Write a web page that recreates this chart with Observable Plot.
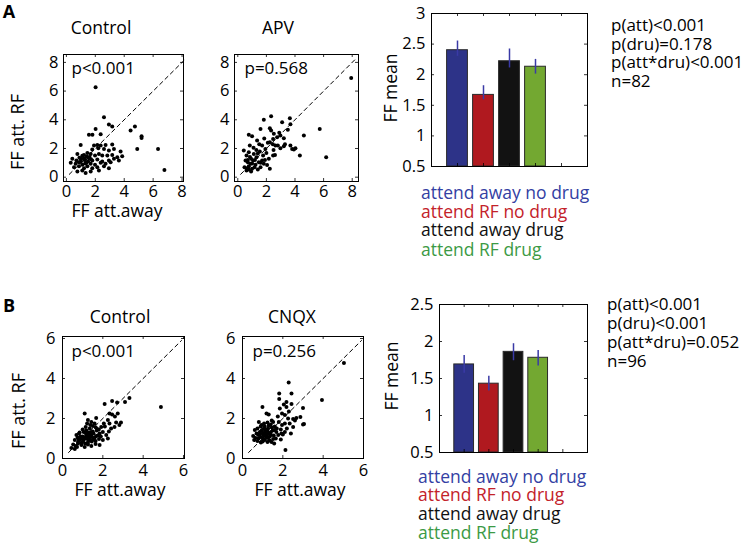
<!DOCTYPE html>
<html>
<head>
<meta charset="utf-8">
<script src="https://cdn.jsdelivr.net/npm/d3@7"></script>
<script src="https://cdn.jsdelivr.net/npm/@observablehq/plot@0.6"></script>
<style>
  html, body { margin: 0; padding: 0; background: #fff; }
  #fig { position: relative; width: 746px; height: 544px; background: #fff; overflow: hidden;
         font-family: 'Open Sans', 'Noto Sans', sans-serif; color: #000; }
  .lbl { position: absolute; white-space: nowrap; line-height: 1; }
  #fig svg { position: absolute; overflow: visible; }
</style>
</head>
<body>
<div id="fig"></div>
<script>
// ---------------- DATA ----------------
const conditions = ["attend away no drug", "attend RF no drug", "attend away drug", "attend RF drug"];
const barPositions = [1, 2, 3, 4];
const barColors = ["#2d3388", "#b0191f", "#121212", "#73a831"];
const legendColors = ["#3340a3", "#c3222a", "#111111", "#3c9a45"];

const meanA = [2.40, 1.67, 2.22, 2.13];
const errUpA = [0.15, 0.15, 0.20, 0.12];
const errDnA = [0.10, 0.08, 0.11, 0.12];
const statsA = ["p(att)<0.001", "p(dru)=0.178", "p(att*dru)<0.001", "n=82"];

const meanB = [1.69, 1.43, 1.86, 1.78];
const errUpB = [0.12, 0.10, 0.11, 0.10];
const errDnB = [0.12, 0.10, 0.12, 0.11];
const statsB = ["p(att)<0.001", "p(dru)<0.001", "p(att*dru)=0.052", "n=96"];

const barTicksA = [0.5, 1, 1.5, 2, 2.5, 3];
const barTicksB = [0.5, 1, 1.5, 2, 2.5];
const barSlotTicks = [1, 2, 3, 4, 5];

const scatterTicksA = [0, 2, 4, 6, 8];
const scatterTicksB = [0, 2, 4, 6];
const diagA = [0.2, 8.2];
const diagB = [0.3, 5.9];

// FF attend away (x), FF attend RF (y)
const controlA = [
  [2.02,6.26],[2.6,4.18],[2.94,3.67],[3.17,3.53],[4.44,3.25],[4.74,3.53],[5.2,2.85],[5.2,2.74],
  [4.9,1.97],[6.34,1.97],[6.78,0.51],[2.02,3.36],[1.56,2.95],[1.8,2.95],[2.37,3.0],
  [0.99,2.25],[1.91,2.2],[2.14,2.25],[2.37,2.2],[2.71,2.25],[3.17,2.27],
  [1.79,1.93],[2.21,2.02],[2.6,1.97],[2.94,1.86],[3.29,1.97],[3.75,1.79],
  [0.76,1.62],[1.22,1.55],[1.45,1.69],[1.68,1.62],[1.98,1.51],[2.25,1.62],[2.48,1.51],[2.83,1.51],[3.17,1.55],[3.52,1.39],[3.86,1.46],
  [0.41,1.28],[0.69,1.16],[0.99,1.28],[1.29,1.23],[1.56,1.32],[1.79,1.16],[2.14,1.23],[2.48,1.09],[2.94,1.16],[3.29,1.28],[3.63,1.16],
  [0.3,1.0],[0.64,0.93],[0.87,1.04],[1.1,0.86],[1.38,1.0],[1.68,0.93],[1.98,0.86],[2.37,1.0],[2.71,0.93],[3.06,1.04],
  [0.53,0.7],[0.87,0.77],[1.22,0.63],[1.45,0.77],[1.79,0.63],[2.14,0.7],[2.6,0.77],[2.94,0.63],
  [0.76,0.39],[1.1,0.46],[1.33,0.3],[1.68,0.39],[2.25,0.46],
  [1.2,1.3],[1.4,1.45],[1.5,1.1],[1.3,0.95],[1.1,1.5],[1.6,1.4],[1.0,1.1],[1.25,1.2],[1.7,1.25],[0.9,1.35]
];
const apvA = [
  [7.93,6.91],[5.73,3.36],[6.18,1.39],[4.62,2.9],[4.34,1.51],
  [3.68,2.2],[3.8,1.97],[3.92,1.93],[4.03,2.02],[3.1,3.83],[3.64,4.11],[3.68,3.69],
  [1.82,4.01],[2.33,4.25],[2.24,3.41],[2.33,3.25],[1.59,3.36],
  [2.52,3.02],[2.75,2.78],[2.98,2.9],[3.22,2.71],[2.63,2.2],[2.98,2.02],[3.22,2.16],
  [2.24,2.44],[2.47,2.67],[0.77,2.95],[1.0,2.85],[0.84,2.2],[1.35,2.55],[1.7,2.2],[1.93,1.97],
  [2.47,1.51],[2.24,0.58],
  [0.42,1.86],[0.61,1.51],[0.77,1.74],[0.93,1.28],[1.12,1.62],[1.31,1.39],[1.54,1.79],[1.77,1.51],[2.0,1.69],[2.17,1.28],
  [0.54,1.16],[0.7,1.04],[0.89,0.93],[1.07,1.16],[1.24,0.86],[1.47,1.04],[1.7,1.16],[1.82,0.93],
  [0.47,0.7],[0.65,0.63],[0.77,0.77],[1.0,0.58],[1.17,0.7],[1.4,0.53],[1.59,0.7],
  [0.61,0.46],[0.77,0.53],[0.93,0.39],
  [1.3,1.9],[1.5,2.3],[1.1,2.05],[2.1,2.4],[1.9,1.2],[2.6,1.55],[0.85,1.4],[1.2,1.2],[1.0,0.95],[2.05,0.85],[2.8,2.2],
  [2.5,1.9],[3.3,2.3],[1.6,1.0],[0.7,1.2],[1.85,2.7],[2.9,3.1],[2.45,2.3],[1.4,1.65],[3.5,3.3]
];
const controlB = [
  [4.88,2.58],[3.32,3.03],[3.1,2.83],[2.46,2.87],[2.71,2.8],[2.09,2.72],
  [2.33,2.25],[2.46,2.2],[2.74,2.25],[1.1,2.25],[1.67,2.03],[1.26,1.92],[1.43,1.83],
  [2.25,1.92],[2.33,1.75],[2.66,1.8],[2.82,1.67],[2.58,1.58],[2.41,1.5],[2.9,1.8],
  [0.69,1.17],[0.82,1.25],[0.94,1.08],[1.05,1.33],[1.18,1.2],[1.31,1.3],[1.43,1.17],[1.54,1.25],[1.67,1.13],[1.84,1.25],[2.0,1.33],[2.17,1.17],
  [0.61,0.92],[0.77,0.83],[0.89,0.97],[1.02,0.87],[1.15,1.0],[1.26,0.8],[1.38,0.92],[1.51,1.03],[1.64,0.87],[1.81,0.97],[2.0,0.92],[2.25,1.0],
  [0.53,0.7],[0.66,0.63],[0.77,0.75],[0.94,0.67],[1.1,0.58],[1.26,0.7],[1.43,0.63],[1.64,0.73],[1.84,0.67],
  [0.44,0.53],[0.61,0.47],[0.72,0.58],
  [1.15,1.58],[1.35,1.5],[1.51,1.63],[1.71,1.47],[1.92,1.58],[1.22,1.75],[1.38,1.67],[1.59,1.75],
  [1.0,1.1],[1.1,1.05],[1.2,1.15],[1.3,1.0],[1.25,1.1],[1.4,1.1],[1.05,0.95],[0.9,1.1],[1.15,1.3],[1.35,1.2],[1.5,1.35],[0.8,0.95],[1.7,1.4],[2.1,1.6],
  [1.45,0.85],[1.6,1.05],[1.75,1.15],[1.9,1.1],[0.75,1.05],[0.95,0.8],[1.12,0.75],[1.28,0.9],[1.55,0.95],[1.65,1.55],[1.8,1.45],[2.3,1.35],[2.05,1.75],[1.0,1.45],[1.18,1.4],[0.85,1.3],[1.42,1.3],[2.6,2.1]
];
const cnqxB = [
  [5.03,4.78],[3.94,2.92],[2.29,3.8],[1.82,3.25],[2.43,3.25],
  [1.82,2.97],[2.18,2.83],[2.43,2.72],[1.85,2.5],[2.18,2.58],[0.99,2.58],[3.0,2.53],
  [1.19,2.25],[1.3,2.2],[1.96,2.25],[2.1,2.17],
  [2.26,2.0],[2.51,1.97],[2.67,2.03],[2.87,2.08],[3.0,1.7],[3.05,1.72],
  [1.93,1.25],[2.1,1.33],[1.77,1.17],[1.44,0.83],[1.57,0.75],[2.13,0.42],
  [1.8,1.83],[1.96,1.67],[2.1,1.75],[2.34,1.75],[2.51,1.58],
  [0.81,1.83],[0.94,1.67],[1.07,1.75],[1.24,1.8],[1.4,1.7],[1.52,1.83],
  [0.61,1.42],[0.74,1.5],[0.86,1.33],[1.02,1.47],[1.14,1.37],[1.27,1.5],[1.4,1.3],[1.57,1.42],[1.68,1.33],
  [0.53,1.13],[0.64,1.03],[0.78,1.17],[0.91,1.08],[1.02,1.0],[1.14,1.13],[1.27,1.03],[1.4,1.17],[1.52,0.97],
  [0.58,0.92],[0.74,0.87],[0.91,0.8],[1.11,0.92],[1.24,0.83],
  [1.0,1.25],[1.1,1.3],[1.2,1.2],[1.15,1.45],[1.25,1.35],[1.05,1.15],[0.95,1.4],[1.3,1.25],[1.35,1.1],[1.2,1.05],[0.85,1.2],[1.45,1.55],[1.6,1.6],[1.1,1.6],[1.7,1.5],[0.7,1.25],
  [1.9,1.45],[2.2,1.5],[2.0,1.2],[1.55,1.15],[0.9,1.6],[1.3,1.65],[1.5,1.4],[1.65,1.0],[0.8,1.0],[1.35,0.9],[2.3,2.35],[1.75,2.1],[1.9,0.95],[2.6,1.9],[2.05,2.7],[1.0,0.85],[1.45,1.9],[2.4,1.25]
];

// ---------------- DRAWING ----------------
const fig = document.getElementById("fig");
const FONT = "'Open Sans', 'Noto Sans', sans-serif";

function addLabel(text, x, y, opts = {}) {
  const { size = 17, weight = 400, color = "#000", rotate = 0, anchor = "middle" } = opts;
  const d = document.createElement("div");
  d.className = "lbl";
  d.textContent = text;
  d.style.left = x + "px";
  d.style.top = y + "px";
  d.style.fontSize = size + "px";
  d.style.fontWeight = weight;
  d.style.color = color;
  const tx = anchor === "start" ? "0" : "-50%";
  d.style.transform = rotate
    ? `translate(-50%, -50%) rotate(${rotate}deg)`
    : `translate(${tx}, -50%)`;
  fig.appendChild(d);
}

function innerTicks(xTicks, yTicks, fw, fh, len = 3) {
  const m = [];
  if (xTicks) {
    m.push(Plot.tickX(xTicks, { x: d => d, insetTop: fh - len, stroke: "#000", strokeWidth: 0.8 }));
    m.push(Plot.tickX(xTicks, { x: d => d, insetBottom: fh - len, stroke: "#000", strokeWidth: 0.8 }));
  }
  if (yTicks) {
    m.push(Plot.tickY(yTicks, { y: d => d, insetRight: fw - len, stroke: "#000", strokeWidth: 0.8 }));
    m.push(Plot.tickY(yTicks, { y: d => d, insetLeft: fw - len, stroke: "#000", strokeWidth: 0.8 }));
  }
  return m;
}

function scatter(cfg) {
  const [x0, y0, x1, y1] = cfg.frame;
  const fw = x1 - x0, fh = y1 - y0;
  const ml = 40, mt = 4, mr = 6, mb = 30;
  const svg = Plot.plot({
    width: fw + ml + mr, height: fh + mt + mb,
    marginLeft: ml, marginRight: mr, marginTop: mt, marginBottom: mb,
    x: { domain: cfg.xDomain, axis: null },
    y: { domain: cfg.yDomain, axis: null },
    style: { fontFamily: FONT, fontSize: "16px", color: "#000", background: "transparent", overflow: "visible" },
    marks: [
      Plot.axisX({ ticks: cfg.ticks, tickSize: 0, tickPadding: cfg.padX, tickFormat: d => String(d), fontSize: 16.5, label: null }),
      Plot.axisY({ ticks: cfg.ticks, tickSize: 0, tickPadding: cfg.padY, tickFormat: d => String(d), fontSize: 16.5, label: null }),
      ...innerTicks(cfg.ticks, cfg.ticks, fw, fh, 3),
      Plot.line(cfg.diag, { x: d => d, y: d => d, stroke: "#000", strokeWidth: 1, strokeDasharray: "4,3.5" }),
      Plot.dot(cfg.points, { x: d => d[0], y: d => d[1], r: 2, fill: "#000", stroke: "none" }),
      Plot.frame({ stroke: "#000", strokeWidth: 1 }),
      Plot.text([cfg.pText], { frameAnchor: "top-left", textAnchor: "start", lineAnchor: "middle", dx: cfg.pdx, dy: cfg.pdy, fontSize: 17, fill: "#000" })
    ]
  });
  svg.style.left = (x0 - ml) + "px";
  svg.style.top = (y0 - mt) + "px";
  fig.appendChild(svg);
}

function bars(cfg) {
  const [x0, y0, x1, y1] = cfg.frame;
  const fw = x1 - x0, fh = y1 - y0;
  const ml = 45, mt = 10, mr = 6, mb = 10;
  const rows = conditions.map((c, i) => ({
    cond: c, pos: barPositions[i], value: cfg.means[i], up: cfg.up[i], dn: cfg.dn[i], color: barColors[i]
  }));
  const base = cfg.yDomain[0];
  const svg = Plot.plot({
    width: fw + ml + mr, height: fh + mt + mb,
    marginLeft: ml, marginRight: mr, marginTop: mt, marginBottom: mb,
    x: { domain: [0, 6], axis: null },
    y: { domain: cfg.yDomain, axis: null },
    color: { type: "identity" },
    style: { fontFamily: FONT, fontSize: "16px", color: "#000", background: "transparent", overflow: "visible" },
    marks: [
      Plot.rectY(rows, { x1: d => d.pos - 0.4, x2: d => d.pos + 0.4, y1: base, y2: "value", fill: "color", stroke: "#2a2a2a", strokeWidth: 1 }),
      Plot.ruleX(rows, { x: "pos", y1: d => d.value - d.dn, y2: d => d.value + d.up, stroke: "#3a3aa6", strokeWidth: 1.5 }),
      Plot.axisY({ ticks: cfg.ticks, tickSize: 0, tickPadding: 6, tickFormat: d => String(d), fontSize: 16.5, label: null }),
      ...innerTicks(barSlotTicks, cfg.ticks, fw, fh, 3),
      Plot.frame({ stroke: "#000", strokeWidth: 1 })
    ]
  });
  svg.style.left = (x0 - ml) + "px";
  svg.style.top = (y0 - mt) + "px";
  fig.appendChild(svg);
}

// ----- Panel A -----
scatter({ frame: [63, 54, 183, 181], xDomain: [-0.2, 8.1], yDomain: [-0.3, 8.55], ticks: scatterTicksA,
  diag: diagA, points: controlA, pText: "p<0.001", pdx: 8, pdy: 14, padX: 4, padY: 5 });
scatter({ frame: [234, 54, 358, 181], xDomain: [-0.23, 8.44], yDomain: [-0.3, 8.55], ticks: scatterTicksA,
  diag: diagA, points: apvA, pText: "p=0.568", pdx: 10, pdy: 14, padX: 4, padY: 5 });
bars({ frame: [431, 13, 587, 166], yDomain: [0.5, 3], ticks: barTicksA, means: meanA, up: errUpA, dn: errDnA });

// ----- Panel B -----
scatter({ frame: [62, 336, 184, 458], xDomain: [0, 6.05], yDomain: [0, 6.1], ticks: scatterTicksB,
  diag: diagB, points: controlB, pText: "p<0.001", pdx: 9, pdy: 15, padX: 6, padY: 7 });
scatter({ frame: [242, 336, 363, 458], xDomain: [0, 6], yDomain: [0, 6.1], ticks: scatterTicksB,
  diag: diagB, points: cnqxB, pText: "p=0.256", pdx: 10, pdy: 15, padX: 6, padY: 7 });
bars({ frame: [439, 304, 587, 452], yDomain: [0.5, 2.5], ticks: barTicksB, means: meanB, up: errUpB, dn: errDnB });

// ----- Text -----
addLabel("A", 9, 11, { size: 18, weight: 700 });
addLabel("B", 9, 305, { size: 18, weight: 700 });

addLabel("Control", 101, 28, { size: 17.5 });
addLabel("APV", 278, 28, { size: 17.5 });
addLabel("Control", 120, 317, { size: 17.5 });
addLabel("CNQX", 292, 317, { size: 17.5 });

addLabel("FF att. RF", 17, 132, { size: 18, rotate: -90 });
addLabel("FF att. RF", 18, 411, { size: 18, rotate: -90 });
addLabel("FF att.away", 117, 211, { size: 17.5 });
addLabel("FF att.away", 120, 490, { size: 17.5 });
addLabel("FF att.away", 300, 490, { size: 17.5 });

addLabel("FF mean", 391, 88, { size: 17.5, rotate: -90 });
addLabel("FF mean", 392, 376, { size: 17.5, rotate: -90 });

const statsYA = [24, 42.5, 61, 79.5];
statsA.forEach((s, i) => addLabel(s, 611, statsYA[i], { size: 17, anchor: "start" }));
const statsYB = [302.5, 321.5, 340.5, 359.5];
statsB.forEach((s, i) => addLabel(s, 607, statsYB[i], { size: 17, anchor: "start" }));

const legendYA = [192.5, 211.5, 230, 250];
conditions.forEach((c, i) => addLabel(c, 421, legendYA[i], { size: 17.5, color: legendColors[i], anchor: "start" }));
const legendYB = [477, 495, 514, 533];
conditions.forEach((c, i) => addLabel(c, 418, legendYB[i], { size: 17.5, color: legendColors[i], anchor: "start" }));
</script>
</body>
</html>
